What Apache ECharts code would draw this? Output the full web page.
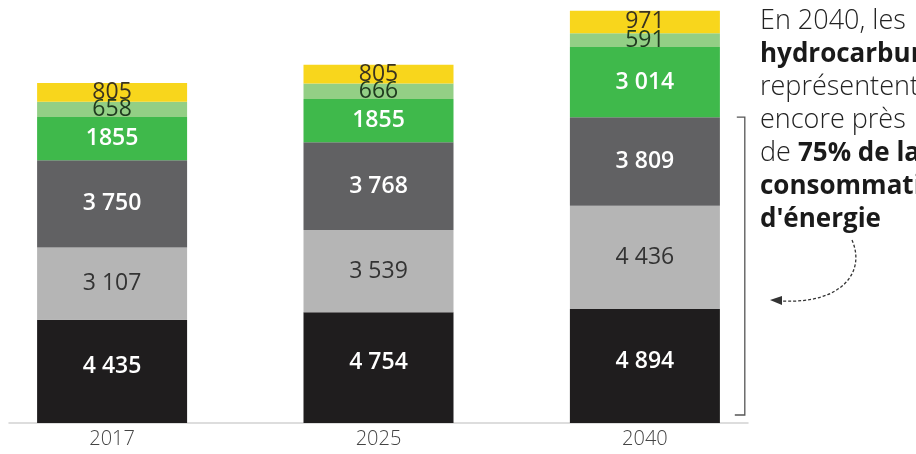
<!DOCTYPE html>
<html>
<head>
<meta charset="utf-8">
<script src="https://cdn.jsdelivr.net/npm/echarts@6/dist/echarts.min.js"></script>
<style>
  html, body { margin: 0; padding: 0; background: #fff; }
  #chart { width: 916px; height: 454px; }
</style>
</head>
<body>
<div id="chart"></div>
<script>
const years = ['2017', '2025', '2040']
// bottom to top
const coal = [4435, 4754, 4894]
const gas = [3107, 3539, 4436]
const oil = [3750, 3768, 3809]
const renew = [1855, 1855, 3014]
const nuclear = [658, 666, 591]
const other = [805, 805, 971]

const fmt = v => (v < 2000 ? String(v) : String(v).replace(/\B(?=(\d{3})+(?!\d))/g, ' '))

const layers = [
  { name: 'coal', data: coal, color: '#1f1d1e', label: { color: '#fff', fontWeight: 600, offset: [0, -5] } },
  { name: 'gas', data: gas, color: '#b5b5b5', label: { color: '#333', fontWeight: 'normal' } },
  { name: 'oil', data: oil, color: '#616163', label: { color: '#fff', fontWeight: 600 } },
  { name: 'renew', data: renew, color: '#3fb94b', label: { color: '#fff', fontWeight: 600 } },
  { name: 'nuclear', data: nuclear, color: '#93cf85', label: { color: '#1f3a1f', fontWeight: 'normal' } },
  { name: 'other', data: other, color: '#f8d61c', label: { color: '#3a3320', fontWeight: 'normal' } },
]

const hydro2040 = coal[2] + gas[2] + oil[2]

const chart = echarts.init(document.getElementById('chart'))
chart.setOption({
  animation: false,
  grid: { left: 9, right: 168, top: 4, bottom: 31 },
  xAxis: {
    type: 'value',
    min: -0.387,
    max: 2.387,
    splitLine: { show: false },
    axisTick: { show: false },
    axisLine: { show: true, lineStyle: { color: '#d2d2d2', width: 1.5 } },
    axisLabel: {
      customValues: [0, 1, 2],
      formatter: v => years[Math.round(v)] || '',
      color: '#444',
      fontSize: 20,
      fontWeight: 300,
      fontFamily: 'Open Sans',
      margin: 6,
    },
  },
  yAxis: { type: 'value', min: 0, max: 18000, show: false },
  series: layers.map(l => ({
    name: l.name,
    type: 'bar',
    stack: 'total',
    barWidth: 150,
    // value first so the stack runs on y
    data: l.data.map((v, i) => [v, i]),
    encode: { x: 1, y: 0 },
    itemStyle: { color: l.color },
    label: {
      show: true,
      position: 'inside',
      fontSize: 23,
      fontFamily: 'Open Sans',
      color: l.label.color,
      fontWeight: l.label.fontWeight,
      offset: l.label.offset || [0, 0],
      formatter: p => fmt(p.value[0]),
    },
  })).concat([{
    type: 'custom',
    clip: false,
    silent: true,
    data: [[2.375, hydro2040]],
    renderItem: (params, api) => {
      const top = api.coord([api.value(0), api.value(1)])
      const bot = api.coord([api.value(0), 0])
      return {
        type: 'polyline',
        shape: { points: [[top[0] - 8, top[1]], top, [bot[0], bot[1] - 8], [bot[0] - 10, bot[1] - 8]] },
        style: { stroke: '#555', lineWidth: 1.3, fill: null },
      }
    },
  }]),
  graphic: [
    {
      type: 'text',
      left: 760,
      top: 5,
      style: {
        text: 'En 2040, les\n{b|hydrocarbures}\nreprésentent\nencore près\nde {b|75% de la}\n{b|consommation}\n{b|d\'énergie}',
        font: '300 27px "Open Sans"',
        fill: '#222',
        lineHeight: 33,
        rich: {
          b: { fontWeight: 'bold', fontSize: 26, fontFamily: 'Open Sans', fill: '#1a1a1a', lineHeight: 33 },
        },
      },
    },
    {
      type: 'bezierCurve',
      shape: { x1: 852, y1: 240, cpx1: 866, cpy1: 272, cpx2: 842, cpy2: 304, x2: 782, y2: 301 },
      style: { stroke: '#333', lineWidth: 1.3, lineDash: [3, 2], fill: null },
    },
    {
      type: 'polygon',
      shape: { points: [[770, 300], [782, 296], [782, 305]] },
      style: { fill: '#333' },
    },
  ],
})
</script>
</body>
</html>
